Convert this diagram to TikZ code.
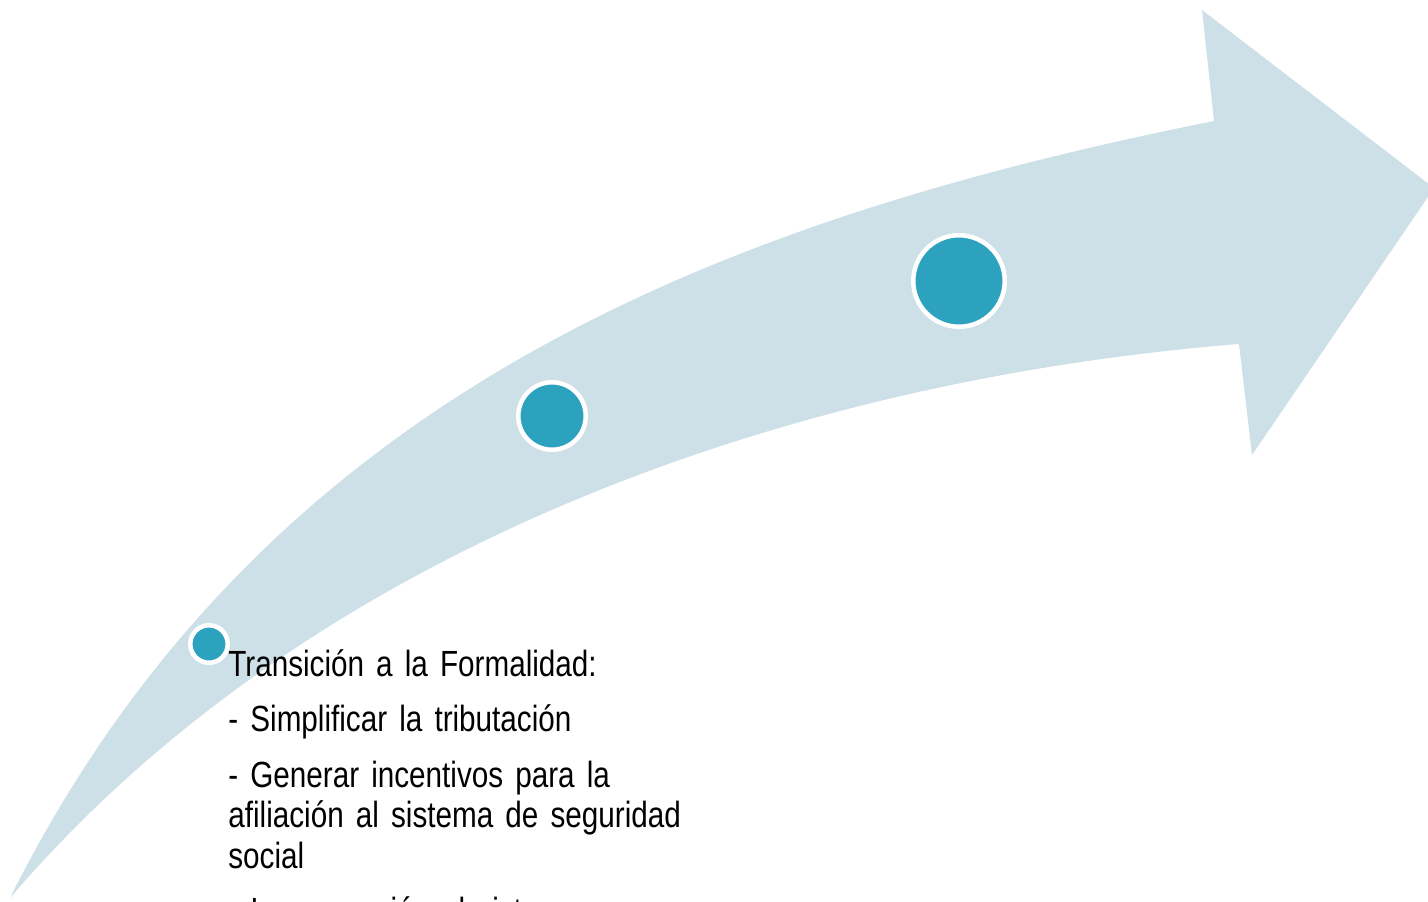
\documentclass[tikz,border=0pt]{standalone}
\usepackage{fontspec}
\setmainfont[FakeStretch=0.815]{Liberation Sans}
\usetikzlibrary{positioning}

\definecolor{bandblue}{RGB}{205,224,231}
\definecolor{dotblue}{RGB}{44,162,190}

\tikzset{
  milestone/.style={circle,fill=dotblue,draw=white,line width=2.25pt,inner sep=0pt,minimum size=#1},
  steptext/.style={anchor=base west,inner sep=0pt,text width=240pt,align=left,
    font=\fontsize{18.2}{20.25}\selectfont},
}

\begin{document}
\begin{tikzpicture}[x=0.5pt,y=-0.5pt]
        \useasboundingbox (0,0) rectangle (1428,901);
        \clip (0,0) rectangle (1428,901);

        % the rising band with its head
        \fill[bandblue] (10,898) .. controls (260,398) and (714,221) .. (1214,121)
          -- (1202,10) -- (1434,188) -- (1252,455) -- (1239,344)
          .. controls (789,380) and (310,547) .. (10,898) -- cycle;

        \node[milestone=18.75pt] (c1) at (209,644) {};
        \node[milestone=33.75pt] (c2) at (552,416) {};
        \node[milestone=45.75pt] (c3) at (959,281) {};

        \node[steptext] (steps) at (228,676) {Transición a la Formalidad:\\[7.5pt]
          - Simplificar la tributación\\[7.5pt]
          - Generar incentivos para la\\
          afiliación al sistema de seguridad\\
          social\\[7.5pt]
          - Incorporación al sistema};
      \end{tikzpicture}
\end{document}
